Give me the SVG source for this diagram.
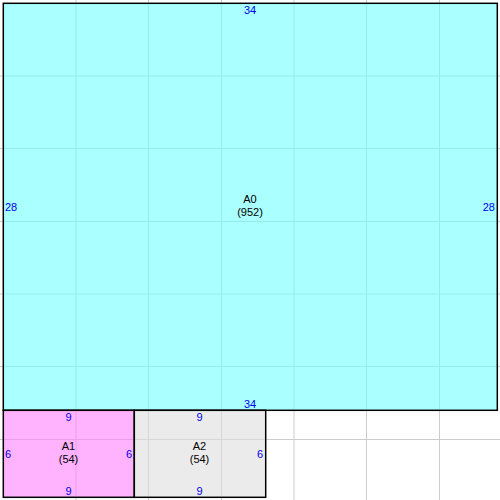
<svg xmlns="http://www.w3.org/2000/svg" width="500" height="500" viewBox="0 0 500 500">
<style>
.box{stroke:#000;stroke-width:1.5}
.grid line{stroke:#cccccc;stroke-width:1}
.lbl{font-family:"Liberation Sans",Arial,sans-serif;font-size:11px;fill:#000;text-anchor:middle}
.num{font-family:"Liberation Sans",Arial,sans-serif;font-size:11px;fill:#0000ee}
.m{text-anchor:middle}
.e{text-anchor:end}
</style>
<rect width="500" height="500" fill="#fff"/>
<g class="grid">
<line x1="76" y1="0" x2="76" y2="500"/>
<line x1="148.5" y1="0" x2="148.5" y2="500"/>
<line x1="221.5" y1="0" x2="221.5" y2="500"/>
<line x1="294" y1="0" x2="294" y2="500"/>
<line x1="366.5" y1="0" x2="366.5" y2="500"/>
<line x1="439.5" y1="0" x2="439.5" y2="500"/>
<line x1="0" y1="76" x2="500" y2="76"/>
<line x1="0" y1="148.5" x2="500" y2="148.5"/>
<line x1="0" y1="221.5" x2="500" y2="221.5"/>
<line x1="0" y1="294" x2="500" y2="294"/>
<line x1="0" y1="366.5" x2="500" y2="366.5"/>
<line x1="0" y1="439.5" x2="500" y2="439.5"/>
</g>
<g id="A0">
<rect class="box" x="3.3" y="3.3" width="494" height="407" fill="rgb(113,255,255)" fill-opacity="0.6"/>
<text class="lbl" x="250" y="203">A0</text>
<text class="lbl" x="250" y="216">(952)</text>
<text class="num m" x="250" y="14">34</text>
<text class="num m" x="250" y="408">34</text>
<text class="num" x="5" y="211">28</text>
<text class="num e" x="495" y="211">28</text>
</g>
<g id="A1">
<rect class="box" x="3.3" y="410.3" width="131" height="87" fill="rgb(255,128,255)" fill-opacity="0.6"/>
<text class="lbl" x="68.5" y="450">A1</text>
<text class="lbl" x="68.5" y="463">(54)</text>
<text class="num m" x="68.5" y="421">9</text>
<text class="num m" x="68.5" y="495">9</text>
<text class="num" x="5" y="458">6</text>
<text class="num e" x="132" y="458">6</text>
</g>
<g id="A2">
<rect class="box" x="134.3" y="410.3" width="131.4" height="87" fill="rgb(222,222,222)" fill-opacity="0.6"/>
<text class="lbl" x="199.5" y="450">A2</text>
<text class="lbl" x="199.5" y="463">(54)</text>
<text class="num m" x="199.5" y="421">9</text>
<text class="num m" x="199.5" y="495">9</text>
<text class="num e" x="263" y="458">6</text>
</g>
</svg>
